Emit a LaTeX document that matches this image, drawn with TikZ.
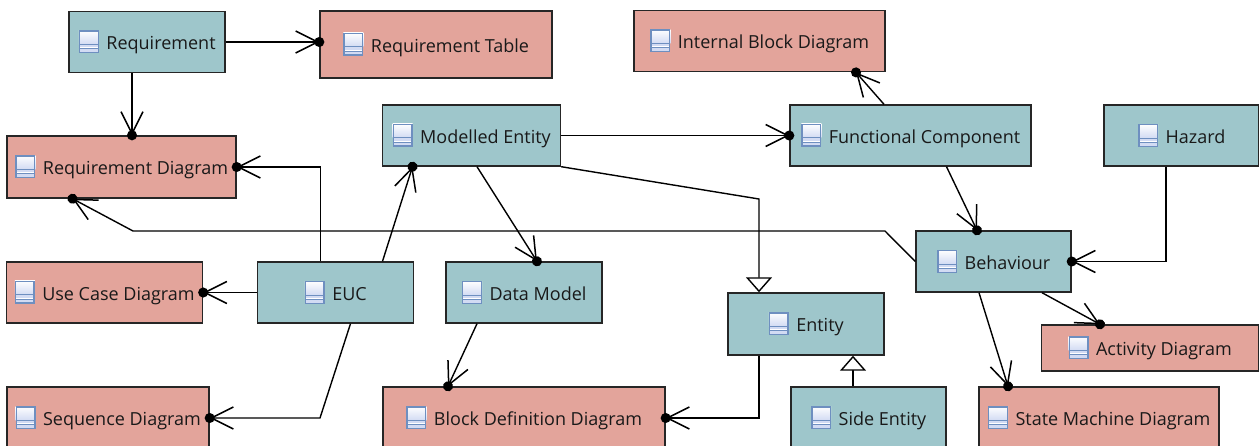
\documentclass[tikz,border=0pt]{standalone}
\usepackage{fontspec}
\usepackage{tikz}
\usetikzlibrary{arrows.meta}
\newfontfamily\diagfont{Open Sans}

\definecolor{clsfill}{RGB}{158,198,203}
\definecolor{dgmfill}{RGB}{227,164,155}
\definecolor{iconline}{RGB}{110,143,192}
\definecolor{iconfill}{RGB}{210,219,243}

\newcommand{\docicon}{\tikz[baseline=3.6pt,x=1pt,y=1pt]{
        \shade[top color=white, bottom color=iconfill] (0,9) rectangle (20,23);
        \fill[white] (0,0) rectangle (20,9);
        \fill[iconfill] (0,6) rectangle (20,9);
        \fill[iconfill] (0,1.5) rectangle (20,4.5);
        \draw[iconline, line width=1pt] (0,9) -- (20,9) (0,4.5) -- (20,4.5);
        \draw[iconline, line width=1.4pt] (0.7,0.7) rectangle (19.3,22.3);}\hspace{7pt}}

\tikzset{
    cls/.style={draw=black!85, line width=1.4pt, fill=clsfill, inner sep=0pt,
        minimum height=61pt, text=black!90,
        font=\diagfont\fontsize{18}{21}\selectfont},
    dgm/.style={cls, fill=dgmfill},
    conn/.style={draw=black, line width=1.4pt,
        -{Straight Barb[length=22pt,width=22pt,line width=1.5pt,sep=-5pt]Circle[length=10pt,sep=-5pt]}},
    gen/.style={draw=black, line width=1.4pt,
        -{Triangle[length=15pt,width=26pt,fill=white,line width=1.4pt]}}
}

\begin{document}
\begin{tikzpicture}[x=1pt,y=-1pt]
        \useasboundingbox (0,0) rectangle (1259,445);

        % classes
        \node[cls, minimum width=156pt] (req) at (147,42) {\docicon Requirement};
        \node[cls, minimum width=178pt] (modent) at (471.5,135.5) {\docicon Modelled Entity};
        \node[cls, minimum width=241pt] (fc) at (910.5,135.5) {\docicon Functional Component};
        \node[cls, minimum width=155pt] (hazard) at (1181.5,135.5) {\docicon Hazard};
        \node[cls, minimum width=155pt] (beh) at (993.5,261.5) {\docicon Behaviour};
        \node[cls, minimum width=156pt] (euc) at (335.5,292.5) {\docicon EUC};
        \node[cls, minimum width=156pt] (datamodel) at (524,292.5) {\docicon Data Model};
        \node[cls, minimum width=156pt, minimum height=62pt] (entity) at (806,324) {\docicon Entity};
        \node[cls, minimum width=155pt, minimum height=62pt] (side) at (868.5,418) {\docicon Side Entity};

        % diagrams
        \node[dgm, minimum width=232pt, minimum height=67pt] (reqtab) at (436,44.5) {\docicon Requirement Table};
        \node[dgm, minimum width=251pt] (ibd) at (759.5,41.2) {\docicon Internal Block Diagram};
        \node[dgm, minimum width=229pt, minimum height=62pt] (reqdgm) at (121.5,167) {\docicon Requirement Diagram};
        \node[dgm, minimum width=196pt] (usecase) at (104.5,292.5) {\docicon Use Case Diagram};
        \node[dgm, minimum width=217pt, minimum height=46pt] (activity) at (1150,348) {\docicon Activity Diagram};
        \node[dgm, minimum width=202pt, minimum height=62pt] (seqdgm) at (108,418) {\docicon Sequence Diagram};
        \node[dgm, minimum width=282pt, minimum height=62pt] (bdd) at (524,418) {\docicon Block Definition Diagram};
        \node[dgm, minimum width=240pt, minimum height=62pt] (smd) at (1099,418) {\docicon State Machine Diagram};

        \draw[conn] (req.east) -- (req.east -| reqtab.west);
        \draw[conn] ([xshift=-15pt]req.south) -- ([xshift=-15pt]req.south |- reqdgm.north);
        \draw[conn] ([xshift=-15pt]euc.north) |- (reqdgm.east);
        \draw[conn] ([xshift=47pt]euc.north) -- ([xshift=-59pt]modent.south);
        \draw[conn] (euc.west) -- (usecase.east);
        \draw[conn] ([xshift=15pt]euc.south) -- (320,418) -- (seqdgm.east);
        \draw[conn] (beh.west) -- (885,231) -- (133,231) -- ([xshift=-49pt]reqdgm.south);
        \draw[conn] (modent.east) -- (fc.west);
        \draw[conn] ([xshift=5.5pt]modent.south) -- ([xshift=13pt]datamodel.north);
        \draw[conn] ([xshift=-47pt]entity.south) |- (bdd.east);
        \draw[conn] ([xshift=-47pt]datamodel.south) -- ([xshift=-76pt]bdd.north);
        \draw[conn] ([xshift=-26.5pt]fc.north) -- ([xshift=96.5pt]ibd.south);
        \draw[conn] ([xshift=36pt]fc.south) -- ([xshift=-16.5pt]beh.north);
        \draw[conn] ([xshift=-15.5pt]hazard.south) |- (beh.east);
        \draw[conn] ([xshift=48.5pt]beh.south) -- ([xshift=-50pt]activity.north);
        \draw[conn] ([xshift=-14.5pt]beh.south) -- ([xshift=-91pt]smd.north);

        % generalisations
        \draw[gen] (modent.south east) -- (759,199) -- ([xshift=-47pt]entity.north);
        \draw[gen] ([xshift=-15.5pt]side.north) -- ([xshift=-15.5pt]side.north |- entity.south);
\end{tikzpicture}
\end{document}
